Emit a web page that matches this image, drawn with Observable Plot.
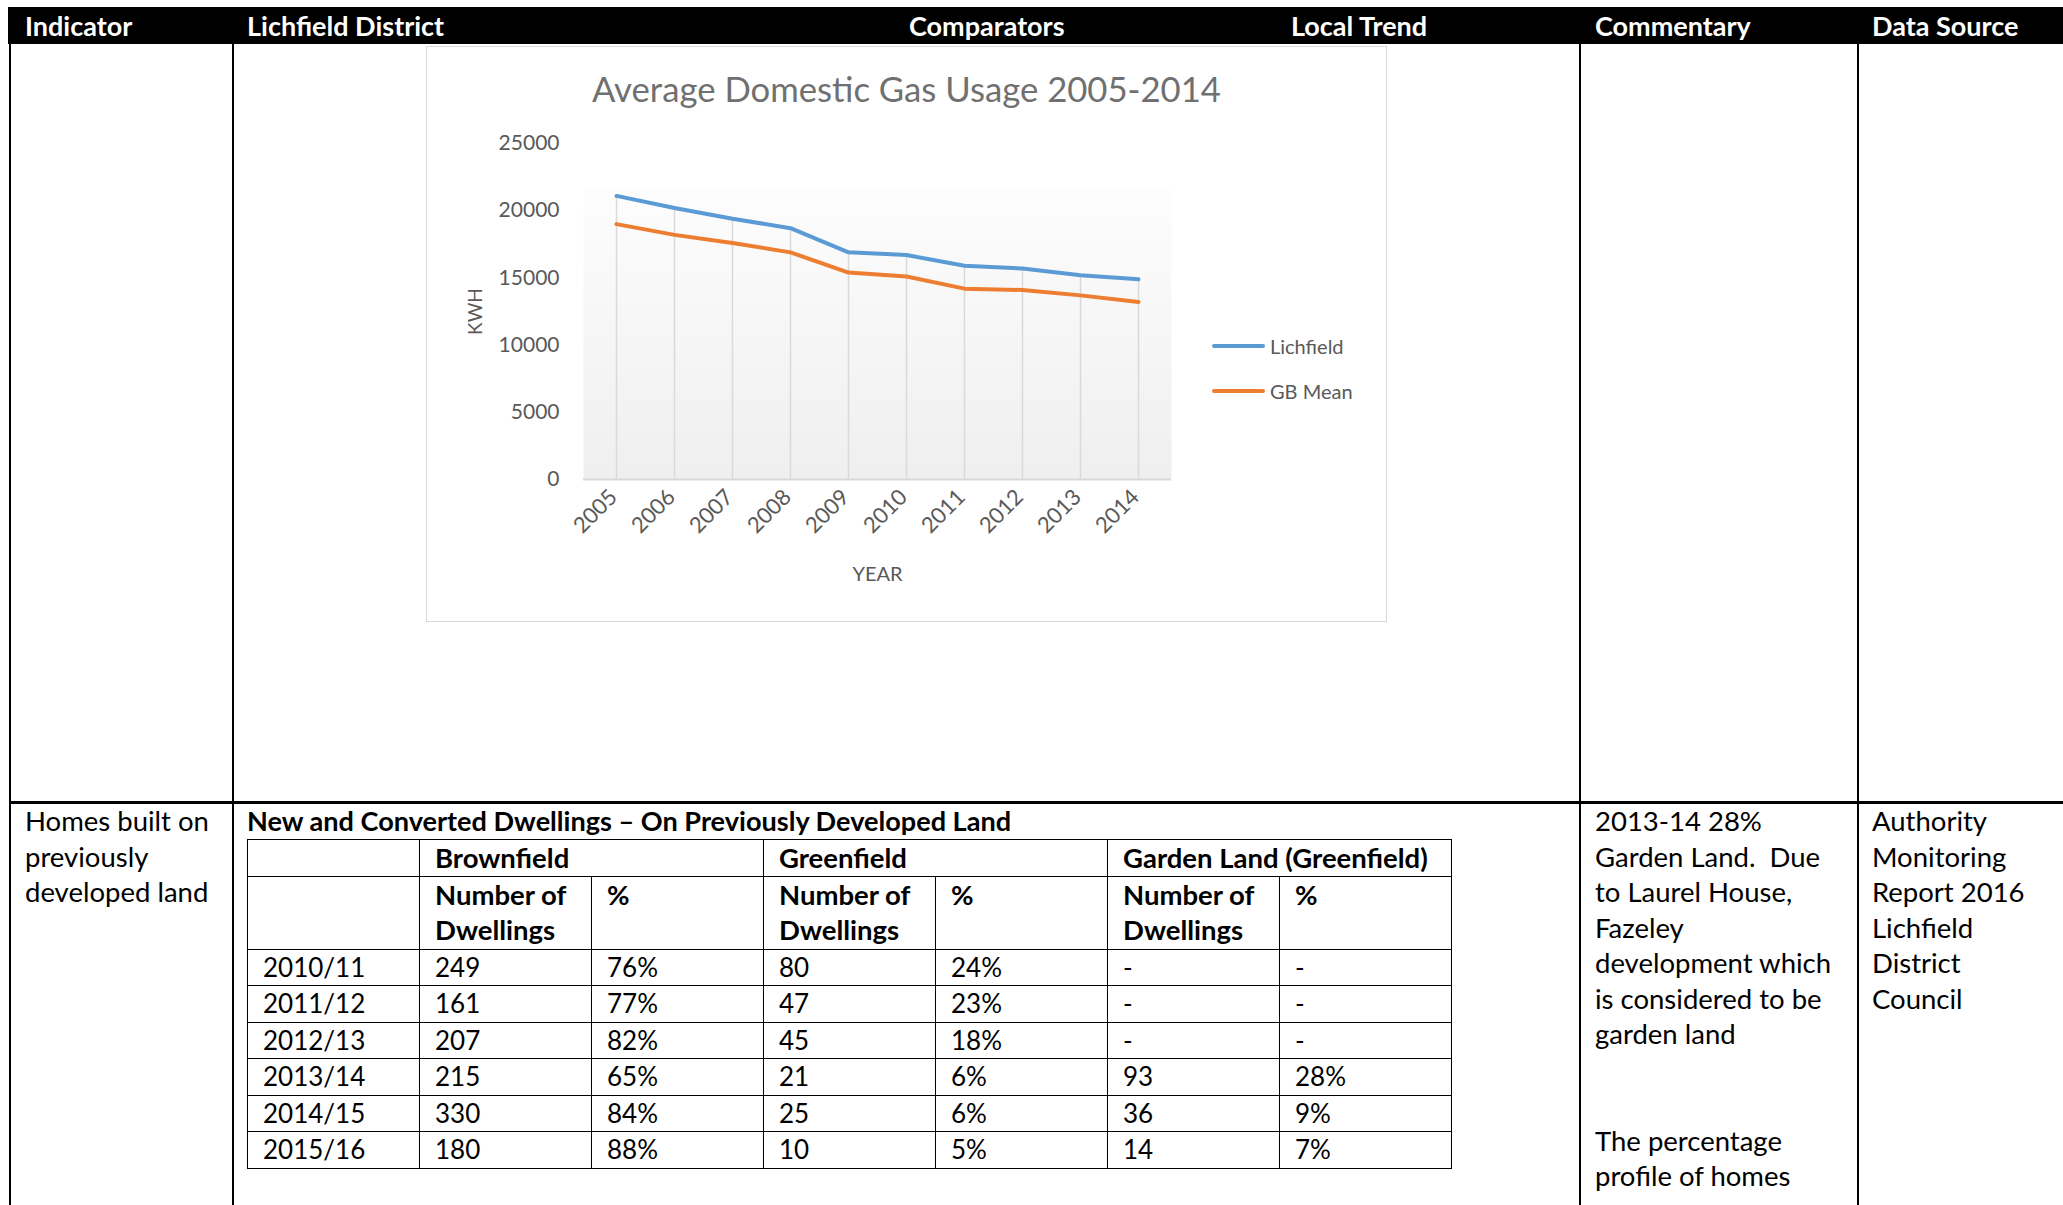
<!DOCTYPE html>
<html>
<head>
<meta charset="utf-8">
<script src="https://cdn.jsdelivr.net/npm/d3@7"></script>
<script src="https://cdn.jsdelivr.net/npm/@observablehq/plot@0.6"></script>
<style>
  html, body { margin: 0; padding: 0; background: #fff; }
  body { width: 2063px; height: 1205px; position: relative; overflow: hidden; font-family: Lato, "Open Sans", sans-serif; color: #000; }
  .abs { position: absolute; }
  .hdr { position: absolute; top: 7px; height: 37px; line-height: 37px; color: #fff; font-weight: bold; font-size: 27px; white-space: nowrap; }
  .vline { position: absolute; width: 2px; background: #000; }
  .txt { position: absolute; font-size: 27.5px; line-height: 35.5px; white-space: pre; }
  table.inner { position: absolute; left: 247px; top: 839px; border-collapse: collapse; table-layout: fixed; font-size: 26px; }
  table.inner td { border: 1.5px solid #000; padding: 0 0 0 15px; line-height: 35.5px; height: 35.5px; vertical-align: middle; white-space: nowrap; overflow: visible; }
  table.inner td.b { font-weight: bold; font-size: 27.5px; }
  table.inner td.top { vertical-align: top; }
</style>
</head>
<body>
<div id="page"></div>
<script>
// ---- Chart data ----
const years = ["2005","2006","2007","2008","2009","2010","2011","2012","2013","2014"];
const lichfield = [21100, 20200, 19400, 18700, 16900, 16700, 15900, 15700, 15200, 14900];
const gbMean = [19000, 18200, 17600, 16900, 15400, 15100, 14200, 14100, 13700, 13200];
const yTicks = [0, 5000, 10000, 15000, 20000, 25000];
const seriesNames = ["Lichfield", "GB Mean"];
const seriesColors = ["#5b9bd5", "#ed7d31"];
const chartTitle = "Average Domestic Gas Usage 2005-2014";

// ---- Document / table data ----
const headerLabels = ["Indicator", "Lichfield District", "Comparators", "Local Trend", "Commentary", "Data Source"];
const indicatorLines = ["Homes built on", "previously", "developed land"];
const tableTitle = "New and Converted Dwellings \u2013 On Previously Developed Land";
const groupHeads = ["Brownfield", "Greenfield", "Garden Land (Greenfield)"];
const tableYears = ["2010/11", "2011/12", "2012/13", "2013/14", "2014/15", "2015/16"];
const brownNum = ["249", "161", "207", "215", "330", "180"];
const brownPct = ["76%", "77%", "82%", "65%", "84%", "88%"];
const greenNum = ["80", "47", "45", "21", "25", "10"];
const greenPct = ["24%", "23%", "18%", "6%", "6%", "5%"];
const gardenNum = ["-", "-", "-", "93", "36", "14"];
const gardenPct = ["-", "-", "-", "28%", "9%", "7%"];
const commentaryLines = ["2013-14 28%", "Garden Land.  Due", "to Laurel House,", "Fazeley", "development which", "is considered to be", "garden land", "", "", "The percentage", "profile of homes"];
const sourceLines = ["Authority", "Monitoring", "Report 2016", "Lichfield", "District", "Council"];

const page = document.getElementById("page");
function el(tag, cls, style, text) {
  const e = document.createElement(tag);
  if (cls) e.className = cls;
  if (style) Object.assign(e.style, style);
  if (text != null) e.textContent = text;
  page.appendChild(e);
  return e;
}

// header bar
el("div", "abs", {left: "8px", top: "7px", width: "2055px", height: "37px", background: "#000"});
const hdrX = [25, 247, 909, 1291, 1595, 1872];
headerLabels.forEach((h, i) => el("div", "hdr", {left: hdrX[i] + "px"}, h));

// grid lines
[9, 232, 1579, 1857].forEach(x => el("div", "vline", {left: x + "px", top: "44px", height: "1161px"}));
el("div", "abs", {left: "9px", top: "801px", width: "2054px", height: "3px", background: "#000"});

// row 2 texts
el("div", "txt", {left: "25px", top: "803px"}, indicatorLines.join("\n"));
el("div", "txt", {left: "247px", top: "803px", fontWeight: "bold", fontSize: "27.1px"}, tableTitle);
el("div", "txt", {left: "1595px", top: "803px"}, commentaryLines.join("\n"));
el("div", "txt", {left: "1872px", top: "803px"}, sourceLines.join("\n"));

// inner table
const tbl = el("table", "inner");
const cg = document.createElement("colgroup");
for (let i = 0; i < 7; i++) { const c = document.createElement("col"); c.style.width = "172px"; cg.appendChild(c); }
tbl.appendChild(cg);
const tb = document.createElement("tbody");
tbl.appendChild(tb);
function row(cells) {
  const tr = document.createElement("tr");
  cells.forEach(c => {
    const td = document.createElement("td");
    if (c.cls) td.className = c.cls;
    if (c.span) td.colSpan = c.span;
    td.textContent = c.t;
    tr.appendChild(td);
  });
  tb.appendChild(tr);
}
row([{t: ""}, ...groupHeads.map(g => ({t: g, cls: "b", span: 2}))]);
const tr2 = document.createElement("tr");
[["", ""], ["Number of\nDwellings", "b top"], ["%", "b top"], ["Number of\nDwellings", "b top"], ["%", "b top"], ["Number of\nDwellings", "b top"], ["%", "b top"]].forEach(([t, c]) => {
  const td = document.createElement("td");
  td.className = c; td.style.whiteSpace = "pre"; td.style.height = "72px"; td.textContent = t;
  tr2.appendChild(td);
});
tb.appendChild(tr2);
tableYears.forEach((y, i) => row([{t: y}, {t: brownNum[i]}, {t: brownPct[i]}, {t: greenNum[i]}, {t: greenPct[i]}, {t: gardenNum[i]}, {t: gardenPct[i]}]));

// ---- chart ----
const box = el("div", "abs", {left: "426px", top: "46px", width: "961px", height: "576px", background: "#fff"});
const chartData = years.map((y, i) => ({year: y, Lichfield: lichfield[i], GB: gbMean[i]}));

const plot = Plot.plot({
  width: 961, height: 576,
  marginLeft: 157, marginRight: 216, marginTop: 97, marginBottom: 143,
  style: {fontFamily: "Lato, 'Open Sans', sans-serif", color: "#595959", background: "transparent", overflow: "visible"},
  x: {type: "point", domain: years, padding: 0.5, align: 0.5, axis: null},
  y: {domain: [0, 25000]},
  marks: [
    Plot.frame({fill: "url(#plotBg)", stroke: "none", insetTop: 45}),
    Plot.ruleX(chartData, {x: "year", y1: 0, y2: d => Math.max(d.Lichfield, d.GB), stroke: "#d9d9d9", strokeWidth: 1.5}),
    Plot.ruleY([0], {stroke: "#d9d9d9", strokeWidth: 2}),
    Plot.axisY({ticks: yTicks, tickFormat: "d", tickSize: 0, tickPadding: 24, fontSize: 21, label: null}),
    Plot.text(years, {x: d => d, frameAnchor: "bottom", rotate: -45, textAnchor: "end", lineAnchor: "middle", dx: -3, dy: 14, fontSize: 22, fill: "#595959"}),
    Plot.text(["KWH"], {frameAnchor: "left", textAnchor: "middle", lineAnchor: "middle", dx: -108, rotate: -90, fontSize: 19, fill: "#595959"}),
    Plot.text(["YEAR"], {frameAnchor: "bottom", textAnchor: "middle", lineAnchor: "middle", dy: 95, fontSize: 20, fill: "#595959"}),
    Plot.line(chartData, {x: "year", y: "GB", stroke: seriesColors[1], strokeWidth: 4, strokeLinecap: "round", strokeLinejoin: "round"}),
    Plot.line(chartData, {x: "year", y: "Lichfield", stroke: seriesColors[0], strokeWidth: 4, strokeLinecap: "round", strokeLinejoin: "round"})
  ]
});
const ns = "http://www.w3.org/2000/svg";
const defs = document.createElementNS(ns, "defs");
defs.innerHTML = '<linearGradient id="plotBg" x1="0" y1="0" x2="0" y2="1"><stop offset="0" stop-color="#fdfdfd"/><stop offset="1" stop-color="#efefef"/></linearGradient>';
plot.insertBefore(defs, plot.firstChild);
plot.style.position = "absolute"; plot.style.left = "0px"; plot.style.top = "0px";
box.appendChild(plot);

// chart border
const border = document.createElement("div");
Object.assign(border.style, {position: "absolute", left: "0", top: "0", width: "961px", height: "576px", boxSizing: "border-box", border: "1.5px solid #d9d9d9", pointerEvents: "none"});
box.appendChild(border);

// chart title
const ttl = document.createElement("div");
Object.assign(ttl.style, {position: "absolute", left: "0", width: "961px", top: "21px", lineHeight: "44px", textAlign: "center", fontSize: "34.7px", color: "#707070", whiteSpace: "nowrap"});
ttl.textContent = chartTitle;
box.appendChild(ttl);

// legend
const legY = [300, 345];
seriesNames.forEach((n, i) => {
  const ln = document.createElement("div");
  Object.assign(ln.style, {position: "absolute", left: (1212 - 426) + "px", top: (legY[i] - 2) + "px", width: "53px", height: "4px", borderRadius: "2px", background: seriesColors[i]});
  box.appendChild(ln);
  const tx = document.createElement("div");
  Object.assign(tx.style, {position: "absolute", left: (1270 - 426) + "px", top: (legY[i] - 15) + "px", lineHeight: "30px", fontSize: "20px", color: "#595959", whiteSpace: "nowrap"});
  tx.textContent = n;
  box.appendChild(tx);
});
</script>
</body>
</html>
